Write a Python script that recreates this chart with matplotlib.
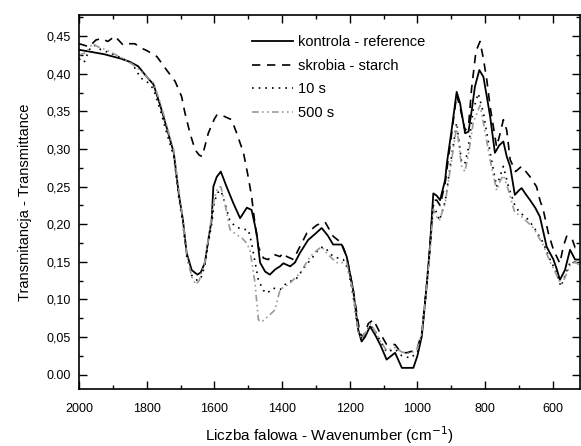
import matplotlib.pyplot as plt
from matplotlib.ticker import MultipleLocator

plt.rcParams['font.family'] = ['Liberation Sans', 'DejaVu Sans']

# kontrola - reference
ref_wn = [2000, 1975, 1950, 1925, 1900, 1875, 1850, 1825, 1800, 1780, 1760, 1740, 1720,
          1705, 1693, 1682, 1667, 1650, 1640, 1628, 1618, 1608, 1603, 1593, 1581, 1564,
          1544, 1524, 1504, 1490, 1475, 1465, 1450, 1436, 1420, 1406, 1396, 1386, 1376,
          1362, 1347, 1323, 1300, 1283, 1265, 1249, 1224, 1209, 1190, 1175, 1165, 1155,
          1140, 1125, 1110, 1091, 1080, 1066, 1055, 1046, 1012, 1000, 987, 973, 963, 953,
          943, 933, 918, 913, 899, 884, 874, 859, 849, 840, 830, 817, 805, 795, 785, 771,
          758, 746, 736, 726, 712, 700, 692, 680, 667, 652, 638, 618, 598, 588, 579, 572,
          564, 549, 534, 520]
ref_t = [0.432, 0.430, 0.428, 0.426, 0.423, 0.420, 0.416, 0.410, 0.396, 0.386, 0.358, 0.327, 0.295,
         0.240, 0.206, 0.162, 0.139, 0.133, 0.136, 0.149, 0.179, 0.206, 0.250, 0.263, 0.270, 0.250,
         0.228, 0.208, 0.222, 0.219, 0.188, 0.149, 0.137, 0.133, 0.140, 0.144, 0.148, 0.146, 0.144,
         0.149, 0.162, 0.179, 0.188, 0.195, 0.185, 0.173, 0.173, 0.157, 0.113, 0.060, 0.044, 0.050,
         0.064, 0.053, 0.040, 0.020, 0.024, 0.029, 0.018, 0.009, 0.009, 0.025, 0.051, 0.117, 0.170, 0.241,
         0.238, 0.232, 0.259, 0.281, 0.325, 0.376, 0.361, 0.321, 0.323, 0.350, 0.383, 0.405, 0.396, 0.370, 0.343, 0.295,
         0.305, 0.310, 0.290, 0.277, 0.239, 0.245, 0.248, 0.240, 0.232, 0.222, 0.210, 0.170, 0.153, 0.140, 0.126, 0.132,
         0.139, 0.166, 0.153, 0.153]

# skrobia - starch
starch_wn = [2000, 1970, 1950, 1933, 1915, 1894, 1869, 1850, 1835, 1815, 1800, 1770, 1741,
             1716, 1697, 1687, 1672, 1657, 1645, 1636, 1618, 1600, 1593, 1580, 1569, 1549,
             1534, 1514, 1500, 1490, 1480, 1470, 1455, 1441, 1425, 1406, 1396, 1386, 1366,
             1352, 1327, 1297, 1273, 1249, 1224, 1209, 1190, 1170, 1160, 1145, 1130, 1110,
             1091, 1066, 1050, 1032, 1002, 987, 973, 963, 953, 943, 933, 918, 899, 884, 874,
             859, 849, 840, 827, 815, 805, 795, 785, 766, 756, 746, 736, 726, 710, 692, 667,
             648, 638, 628, 613, 598, 579, 569, 559, 544, 534, 520]
starch_t = [0.440, 0.436, 0.445, 0.447, 0.443, 0.450, 0.438, 0.440, 0.440, 0.434, 0.431, 0.423, 0.405,
            0.390, 0.370, 0.348, 0.321, 0.299, 0.292, 0.290, 0.321, 0.340, 0.345, 0.346, 0.343, 0.339,
            0.321, 0.295, 0.263, 0.237, 0.200, 0.170, 0.155, 0.153, 0.160, 0.157, 0.162, 0.157, 0.153,
            0.166, 0.188, 0.199, 0.203, 0.184, 0.175, 0.157, 0.113, 0.055, 0.050, 0.068, 0.073, 0.055,
            0.040, 0.040, 0.030, 0.029, 0.033, 0.055, 0.117, 0.170, 0.232, 0.232, 0.225, 0.255, 0.320, 0.372, 0.355,
            0.325, 0.330, 0.380, 0.430, 0.443, 0.420, 0.392, 0.356, 0.303, 0.320, 0.339, 0.325, 0.286, 0.270, 0.277, 0.263,
            0.250, 0.232, 0.219, 0.188, 0.166, 0.148, 0.170, 0.184, 0.182, 0.169, 0.171]

# 10 s
s10_wn = [2000, 1985, 1970, 1955, 1935, 1910, 1880, 1850, 1830, 1820, 1800, 1780, 1760, 1740,
          1720, 1705, 1693, 1682, 1667, 1650, 1640, 1628, 1618, 1608, 1600, 1590, 1581, 1570,
          1554, 1535, 1514, 1500, 1490, 1480, 1470, 1455, 1445, 1426, 1406, 1386, 1357, 1332,
          1308, 1290, 1278, 1265, 1249, 1219, 1205, 1190, 1175, 1165, 1150, 1140, 1125, 1110,
          1091, 1066, 1046, 1020, 1000, 987, 973, 963, 953, 943, 935, 918, 899, 884, 870, 860,
          850, 835, 820, 805, 785, 766, 755, 746, 731, 712, 697, 680, 657, 628, 608, 588, 576,
          565, 549, 534, 520]
s10_t = [0.420, 0.415, 0.432, 0.438, 0.432, 0.428, 0.422, 0.416, 0.405, 0.395, 0.390, 0.380, 0.352, 0.320,
         0.290, 0.235, 0.200, 0.158, 0.132, 0.125, 0.128, 0.145, 0.175, 0.200, 0.230, 0.242, 0.245, 0.230,
         0.204, 0.196, 0.193, 0.193, 0.175, 0.150, 0.126, 0.112, 0.108, 0.115, 0.113, 0.122, 0.128, 0.144,
         0.157, 0.168, 0.170, 0.165, 0.157, 0.153, 0.140, 0.105, 0.058, 0.048, 0.058, 0.066, 0.058, 0.045,
         0.030, 0.034, 0.025, 0.022, 0.030, 0.052, 0.115, 0.165, 0.225, 0.215, 0.205, 0.230, 0.290, 0.335, 0.285, 0.280,
         0.300, 0.352, 0.374, 0.348, 0.295, 0.250, 0.265, 0.277, 0.250, 0.225, 0.215, 0.210, 0.197, 0.175, 0.153, 0.135, 0.117,
         0.130, 0.149, 0.150, 0.148]

# 500 s
s500_wn = [2000, 1980, 1960, 1940, 1920, 1890, 1860, 1840, 1820, 1800, 1780, 1760, 1740, 1720,
           1705, 1693, 1682, 1667, 1655, 1645, 1628, 1618, 1608, 1600, 1590, 1581, 1570, 1554,
           1535, 1519, 1505, 1495, 1480, 1470, 1460, 1445, 1421, 1406, 1376, 1347, 1317, 1295,
           1283, 1265, 1239, 1209, 1190, 1175, 1165, 1150, 1140, 1125, 1110, 1091, 1066, 1046,
           1020, 1000, 987, 973, 963, 953, 943, 935, 918, 899, 884, 870, 860, 850, 835, 815, 805,
           785, 766, 755, 746, 731, 712, 697, 680, 657, 628, 608, 588, 576, 565, 549, 534, 520]
s500_t = [0.425, 0.428, 0.440, 0.435, 0.432, 0.425, 0.418, 0.412, 0.405, 0.396, 0.388, 0.362, 0.330, 0.298,
          0.245, 0.205, 0.160, 0.130, 0.120, 0.125, 0.150, 0.180, 0.210, 0.235, 0.248, 0.250, 0.230, 0.193,
          0.186, 0.182, 0.175, 0.166, 0.122, 0.073, 0.070, 0.076, 0.086, 0.113, 0.122, 0.135, 0.157, 0.166,
          0.170, 0.160, 0.149, 0.149, 0.110, 0.058, 0.048, 0.058, 0.068, 0.058, 0.045, 0.032, 0.036, 0.030,
          0.028, 0.035, 0.055, 0.115, 0.165, 0.220, 0.210, 0.205, 0.228, 0.285, 0.330, 0.278, 0.270, 0.290, 0.335, 0.358, 0.335,
          0.285, 0.245, 0.258, 0.265, 0.245, 0.215, 0.212, 0.205, 0.195, 0.172, 0.150, 0.132, 0.120, 0.128, 0.145, 0.150, 0.145]

labels = ['kontrola - reference', 'skrobia - starch', '10 s', '500 s']
yticks = [0.00, 0.05, 0.10, 0.15, 0.20, 0.25, 0.30, 0.35, 0.40, 0.45]
ytick_labels = ['0.00', '0,05', '0,10', '0,15', '0,20', '0,25', '0,30', '0,35', '0,40', '0,45']
xticks = [2000, 1800, 1600, 1400, 1200, 1000, 800, 600]

fig = plt.figure(figsize=(5.81, 4.46), dpi=100)
ax = fig.add_axes([0.136, 0.128, 0.862, 0.838])

ax.plot(ref_wn, ref_t, color='black', lw=1.3, ls='-', label=labels[0])
ax.plot(starch_wn, starch_t, color='black', lw=1.2, ls=(0, (5, 4)), label=labels[1])
ax.plot(s10_wn, s10_t, color='black', lw=1.2, ls=(0, (1, 3)), label=labels[2])
ax.plot(s500_wn, s500_t, color='#9a9a9a', lw=1.2, ls=(0, (4, 2, 1, 2, 1, 2)), label=labels[3])

ax.set_xlim(2000, 520)
ax.set_ylim(-0.019, 0.478)
ax.set_xticks(xticks)
ax.set_yticks(yticks, labels=ytick_labels)
ax.xaxis.set_minor_locator(MultipleLocator(100))
ax.yaxis.set_minor_locator(MultipleLocator(0.025))
ax.tick_params(which='both', direction='in', top=True, right=True, labelsize=9)
ax.tick_params(which='major', length=6, width=1)
ax.tick_params(which='minor', length=3, width=1)
ax.tick_params(axis='x', pad=10)
ax.tick_params(axis='y', pad=6)
for s in ax.spines.values():
    s.set_linewidth(1.2)

ax.set_xlabel('Liczba falowa - Wavenumber (cm$^{-1}$)', fontsize=11, labelpad=7)
ax.set_ylabel('Transmitancja - Transmittance', fontsize=10.5, labelpad=10)

ax.legend(loc='upper left', bbox_to_anchor=(0.345, 0.946), frameon=False, fontsize=10.5,
          handlelength=2.8, handletextpad=0.35, labelspacing=0.65, borderpad=0, borderaxespad=0)

plt.savefig('out.png', dpi=100)
